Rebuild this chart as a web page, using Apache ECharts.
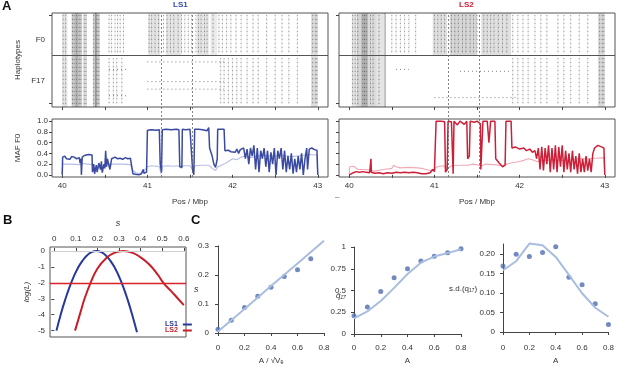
<!DOCTYPE html>
<html><head><meta charset="utf-8">
<script src="https://cdn.jsdelivr.net/npm/echarts@6/dist/echarts.min.js"></script>
<style>html,body{margin:0;padding:0;background:#fff}#c{width:617px;height:366px}</style>
</head><body><div id="c"></div>
<script>
// ---------------- DATA ----------------
const mafTicks = [40, 40.5, 41, 41.5, 42, 42.5, 43];
const mafLabels = [40, 41, 42, 43];
const mafYTicks = [0, 0.2, 0.4, 0.6, 0.8, 1.0];
const dashPosLS1 = [41.16, 41.53];
const dashPosLS2 = [41.16, 41.535];

// haplotype shading bands: [pos0, pos1, row0, row1, density]
const hapBandsLS1 = [
  [40.00,40.06,0,100,0.10],[40.11,40.23,0,100,0.18],[40.15,40.19,0,100,0.12],
  [40.24,40.29,0,100,0.10],[40.36,40.44,0,100,0.16],[40.385,40.405,0,100,0.30],
  [41.01,41.15,55,100,0.10],[41.22,41.40,55,100,0.10],[41.58,41.72,55,100,0.10],
  [41.74,41.82,55,100,0.08],[42.92,43.00,0,100,0.12]
];
const hapBandsLS2 = [
  [40.03,40.09,0,100,0.10],[40.09,40.14,0,100,0.16],[40.14,40.22,0,100,0.28],
  [40.22,40.32,0,100,0.14],[40.32,40.42,0,100,0.10],[40.415,40.43,0,100,0.30],
  [40.98,41.15,55,100,0.12],[41.18,41.50,55,100,0.16],[41.55,41.90,55,100,0.12],
  [42.92,43.00,0,100,0.14]
];
// dotted haplotype columns (SNP positions)
const colsLS1Both = [40.01,40.04,40.12,40.14,40.17,40.20,40.22,40.26,40.28,40.37,40.41,40.43];
const colsLS1F0 = [40.55,40.58,40.62,40.65,40.68,40.72,41.02,41.05,41.09,41.13,41.19,41.23,41.27,41.31,41.36,41.40,41.44,41.48,41.52,41.57,41.60,41.63,41.67,41.70,41.77,41.84,41.88,41.93,41.98,42.04,42.10,42.17,42.24,42.30,42.40,42.50,42.58,42.66,42.76,42.94,42.97,42.99];
const colsLS1F17 = [40.55,40.60,40.64,40.70,41.86,41.90,41.95,42.00,42.05,42.10,42.17,42.24,42.30,42.40,42.50,42.58,42.66,42.76,42.94,42.97,42.99];
const rowsLS1F17 = [[41.0,41.9,48],[41.0,41.9,27],[41.0,41.9,19],[40.55,40.75,40],[40.55,40.75,12]];
const colsLS2Both = [40.04,40.07,40.10,40.16,40.18,40.20,40.25,40.28,40.35];
const colsLS2F0 = [40.50,40.55,40.60,40.65,40.70,40.78,41.00,41.04,41.08,41.12,41.20,41.24,41.28,41.33,41.37,41.42,41.46,41.50,41.58,41.62,41.66,41.70,41.75,41.80,41.85,41.92,41.98,42.04,42.10,42.18,42.25,42.32,42.45,42.52,42.60,42.70,42.80,42.94,42.97,42.99];
const colsLS2F17 = [41.92,41.98,42.04,42.10,42.18,42.25,42.32,42.45,42.52,42.60,42.70,42.80,42.94,42.97,42.99];
const rowsLS2F17 = [[41.0,41.95,10],[40.55,40.70,40],[41.3,41.9,38]];

// MAF F0 traces [pos, maf]
const mafLS1Dark = [[40.00,0.0],[40.005,0.33],[40.03,0.35],[40.05,0.30],[40.07,0.33],[40.09,0.29],[40.11,0.34],[40.14,0.33],[40.17,0.30],[40.20,0.32],[40.21,0.22],[40.22,0.30],[40.225,0.0],[40.235,0.33],[40.26,0.36],[40.28,0.35],[40.31,0.38],[40.35,0.37],[40.355,0.05],[40.37,0.20],[40.38,0.02],[40.40,0.18],[40.41,0.05],[40.43,0.22],[40.45,0.10],[40.46,0.25],[40.47,0.04],[40.49,0.20],[40.50,0.12],[40.51,0.45],[40.52,0.15],[40.53,0.30],[40.55,0.28],[40.56,0.10],[40.58,0.30],[40.60,0.28],[40.62,0.33],[40.65,0.30],[40.68,0.31],[40.71,0.29],[40.74,0.32],[40.77,0.30],[40.80,0.31],[40.82,0.28],[40.83,0.02],[40.86,0.01],[40.90,0.0],[40.93,0.02],[40.95,0.10],[40.96,0.03],[40.99,0.05],[41.00,0.83],[41.05,0.84],[41.10,0.83],[41.14,0.84],[41.15,0.20],[41.165,0.05],[41.175,0.84],[41.22,0.85],[41.28,0.84],[41.34,0.85],[41.37,0.84],[41.38,0.15],[41.405,0.14],[41.41,0.85],[41.45,0.84],[41.50,0.85],[41.52,0.82],[41.53,0.10],[41.545,0.0],[41.555,0.85],[41.60,0.85],[41.65,0.84],[41.70,0.82],[41.72,0.88],[41.73,0.50],[41.76,0.35],[41.78,0.20],[41.80,0.14],[41.82,0.30],[41.825,0.85],[41.87,0.85],[41.90,0.85],[41.91,0.45],[41.95,0.46],[41.98,0.43],[42.00,0.45],[42.03,0.42],[42.05,0.48],[42.07,0.40],[42.09,0.47],[42.11,0.44],[42.13,0.50],[42.15,0.30],[42.17,0.48],[42.19,0.20],[42.21,0.50],[42.23,0.35],[42.25,0.55],[42.27,0.10],[42.29,0.50],[42.31,0.05],[42.33,0.45],[42.35,0.30],[42.37,0.50],[42.39,0.15],[42.41,0.45],[42.43,0.05],[42.45,0.42],[42.47,0.20],[42.49,0.50],[42.51,0.0],[42.53,0.45],[42.55,0.30],[42.57,0.50],[42.59,0.10],[42.61,0.45],[42.63,0.05],[42.65,0.35],[42.67,0.10],[42.69,0.40],[42.71,0.02],[42.73,0.30],[42.75,0.05],[42.77,0.35],[42.79,0.10],[42.81,0.40],[42.83,0.0],[42.85,0.30],[42.87,0.50],[42.88,0.10],[42.90,0.48],[42.93,0.50],[42.96,0.47],[42.99,0.46],[43.00,0.0]];
const mafLS1Light = [[40.00,0.0],[40.005,0.20],[40.10,0.20],[40.20,0.19],[40.25,0.21],[40.30,0.20],[40.35,0.19],[40.37,0.12],[40.40,0.15],[40.45,0.13],[40.50,0.18],[40.55,0.20],[40.60,0.20],[40.70,0.20],[40.80,0.19],[40.83,0.08],[40.87,0.03],[40.92,0.03],[40.96,0.08],[41.00,0.15],[41.05,0.17],[41.10,0.16],[41.14,0.15],[41.16,0.02],[41.18,0.16],[41.25,0.17],[41.30,0.16],[41.38,0.17],[41.40,0.12],[41.42,0.17],[41.50,0.17],[41.53,0.10],[41.56,0.17],[41.65,0.18],[41.72,0.18],[41.76,0.12],[41.80,0.08],[41.83,0.15],[41.90,0.20],[41.95,0.25],[42.00,0.30],[42.05,0.28],[42.10,0.33],[42.15,0.35],[42.20,0.32],[42.30,0.35],[42.40,0.36],[42.50,0.35],[42.60,0.36],[42.70,0.34],[42.80,0.36],[42.90,0.38],[42.99,0.37],[43.00,0.0]];
const mafLS2Dark = [[40.00,0.0],[40.005,0.03],[40.05,0.04],[40.08,0.06],[40.12,0.05],[40.16,0.06],[40.20,0.05],[40.24,0.04],[40.25,0.05],[40.255,0.30],[40.26,0.05],[40.30,0.03],[40.35,0.04],[40.40,0.02],[40.45,0.04],[40.50,0.03],[40.55,0.05],[40.60,0.04],[40.65,0.05],[40.70,0.04],[40.75,0.05],[40.80,0.04],[40.85,0.02],[40.90,0.02],[40.95,0.04],[40.98,0.10],[41.00,0.06],[41.02,1.0],[41.08,1.0],[41.12,0.99],[41.13,0.05],[41.15,0.10],[41.16,1.0],[41.20,0.99],[41.22,0.02],[41.23,1.0],[41.27,0.93],[41.30,1.0],[41.35,0.94],[41.38,1.0],[41.39,0.30],[41.41,0.35],[41.42,1.0],[41.47,0.98],[41.50,1.0],[41.54,0.95],[41.545,0.10],[41.56,0.08],[41.57,1.0],[41.62,1.0],[41.64,0.60],[41.66,1.0],[41.71,1.0],[41.72,0.30],[41.76,0.22],[41.80,0.15],[41.83,0.18],[41.84,1.0],[41.90,1.0],[41.91,0.50],[41.95,0.52],[42.00,0.48],[42.05,0.50],[42.08,0.45],[42.12,0.48],[42.15,0.42],[42.18,0.45],[42.20,0.30],[42.22,0.50],[42.24,0.10],[42.26,0.52],[42.28,0.08],[42.30,0.50],[42.32,0.20],[42.34,0.55],[42.36,0.05],[42.38,0.50],[42.40,0.10],[42.42,0.55],[42.44,0.05],[42.46,0.52],[42.48,0.15],[42.50,0.55],[42.52,0.05],[42.54,0.45],[42.56,0.10],[42.58,0.40],[42.60,0.05],[42.62,0.45],[42.64,0.10],[42.66,0.35],[42.68,0.02],[42.70,0.40],[42.72,0.05],[42.74,0.30],[42.76,0.05],[42.78,0.35],[42.80,0.08],[42.82,0.30],[42.84,0.05],[42.86,0.40],[42.88,0.50],[42.92,0.55],[42.96,0.52],[42.99,0.50],[43.00,0.0]];
const mafLS2Light = [[40.00,0.0],[40.005,0.15],[40.05,0.16],[40.10,0.10],[40.20,0.10],[40.25,0.08],[40.30,0.07],[40.40,0.10],[40.50,0.12],[40.52,0.18],[40.55,0.15],[40.60,0.13],[40.70,0.14],[40.80,0.13],[40.85,0.12],[40.90,0.10],[40.95,0.08],[41.00,0.10],[41.03,0.15],[41.10,0.17],[41.16,0.12],[41.20,0.17],[41.30,0.18],[41.40,0.18],[41.45,0.20],[41.50,0.19],[41.55,0.16],[41.60,0.20],[41.70,0.19],[41.80,0.17],[41.85,0.20],[41.90,0.22],[42.00,0.25],[42.05,0.27],[42.10,0.30],[42.15,0.28],[42.20,0.25],[42.30,0.27],[42.40,0.28],[42.50,0.27],[42.60,0.28],[42.70,0.30],[42.80,0.30],[42.90,0.31],[42.99,0.32],[43.00,0.0]];

// Panel B: log-likelihood vs s
const bTicksX = [0, 0.1, 0.2, 0.3, 0.4, 0.5, 0.6];
const bTicksY = [0, -1, -2, -3, -4, -5];
const llLS1 = [[0.01,-5.0],[0.03,-3.97],[0.05,-3.07],[0.07,-2.28],[0.09,-1.61],[0.11,-1.05],[0.13,-0.62],[0.15,-0.30],[0.17,-0.09],[0.195,0],[0.22,-0.09],[0.24,-0.30],[0.26,-0.62],[0.28,-1.05],[0.30,-1.61],[0.32,-2.28],[0.34,-3.07],[0.36,-3.97],[0.383,-5.1]];
const llLS2 = [[0.096,-5.0],[0.12,-3.9],[0.14,-3.0],[0.168,-2.0],[0.20,-1.1],[0.24,-0.45],[0.28,-0.1],[0.32,0],[0.36,-0.1],[0.40,-0.4],[0.44,-0.85],[0.48,-1.5],[0.505,-2.0],[0.54,-2.5],[0.57,-2.95],[0.60,-3.4]];
const llThreshold = -2;
const llMax = 0;

// Panel C
const cA = [0, 0.1, 0.2, 0.3, 0.4, 0.5, 0.6, 0.7, 0.8];
const c1Points = [0.013, 0.044, 0.088, 0.127, 0.158, 0.195, 0.218, 0.256];
const c1Line = [[0,0.005],[0.2,0.083],[0.4,0.162],[0.6,0.24],[0.8,0.318]];
const c2Points = [0.209, 0.31, 0.489, 0.646, 0.75, 0.84, 0.895, 0.933, 0.98];
const c2Line = [0.18, 0.26, 0.38, 0.53, 0.69, 0.82, 0.89, 0.93, 0.975];
const c3Points = [0.169, 0.199, 0.193, 0.203, 0.218, 0.14, 0.121, 0.072, 0.019];
const c3Line = [0.158, 0.181, 0.226, 0.222, 0.192, 0.146, 0.099, 0.062, 0.039];

// ---------------- CHART ----------------
const FONT = 'Liberation Sans, Arial, Helvetica, sans-serif';
const AX = '#444';
const BLUE = '#3a4aa0', BLUE_L = '#b6bde3';
const RED = '#cc2038', RED_L = '#f1a9b6';
const CPT = '#4f6db0', CLN = '#a8bde0';

function colItems(both, f0, f17){
  const out = [];
  both.forEach(p => out.push([p, 2, 98]));
  f0.forEach(p => out.push([p, 57, 98]));
  f17.forEach(p => out.push([p, 3, 52]));
  return out;
}
const bandRender = (params, api) => {
  const a = api.coord([api.value(0), api.value(3)]);
  const b = api.coord([api.value(1), api.value(2)]);
  return {type:'rect', shape:{x:a[0], y:a[1], width:Math.max(1,b[0]-a[0]), height:b[1]-a[1]},
    style:{fill:'rgba(0,0,0,' + api.value(4) + ')'}};
};
const colRender = (params, api) => {
  const a = api.coord([api.value(0), api.value(2)]);
  const b = api.coord([api.value(0), api.value(1)]);
  const sh = {x1:a[0], y1:a[1], x2:b[0], y2:b[1]};
  return {type:'group', children:[
    {type:'line', shape:sh, style:{stroke:'rgba(0,0,0,0.10)', lineWidth:1}},
    {type:'line', shape:sh, style:{stroke:'rgba(0,0,0,0.38)', lineWidth:1, lineDash:[1,3]}}
  ]};
};
const rowRender = (params, api) => {
  const a = api.coord([api.value(0), api.value(2)]);
  const b = api.coord([api.value(1), api.value(2)]);
  return {type:'line', shape:{x1:a[0], y1:a[1], x2:b[0], y2:b[1]},
    style:{stroke:'rgba(0,0,0,0.5)', lineWidth:1, lineDash:[1,3]}};
};

const tickStyle = () => ({show:true, inside:false, length:3, lineStyle:{color:AX, width:1}});
const lbl = () => ({fontSize:8, color:'#333', fontFamily:FONT});
const nameStyle = () => ({fontSize:8, color:'#333', fontFamily:FONT});

function hapX(gi){
  return {gridIndex:gi, type:'value', min:39.88, max:43.12, axisLine:{show:false}, splitLine:{show:false},
    axisTick:Object.assign({customValues:mafTicks}, tickStyle()), axisLabel:{show:false}};
}
function hapY(gi, labels){
  return {gridIndex:gi, type:'value', min:0, max:100, axisLine:{show:false}, splitLine:{show:false},
    axisTick:Object.assign({customValues:[4,98]}, tickStyle()),
    axisLabel: labels ? Object.assign({customValues:[72,28], margin:7, formatter:v => v > 50 ? 'F0' : 'F17'}, lbl()) : {show:false},
    name: labels ? 'Haplotypes' : '', nameLocation:'middle', nameGap:30, nameTextStyle:nameStyle()};
}
function mafX(gi){
  return {gridIndex:gi, type:'value', min:39.88, max:43.12, axisLine:{show:false}, splitLine:{show:false},
    axisTick:Object.assign({customValues:mafTicks}, tickStyle()),
    axisLabel:Object.assign({customValues:mafLabels, margin:5}, lbl()),
    name:'Pos / Mbp', nameLocation:'middle', nameGap:21, nameTextStyle:nameStyle()};
}
function mafY(gi, labels){
  return {gridIndex:gi, type:'value', min:-0.04, max:1.04, axisLine:{show:false}, splitLine:{show:false},
    axisTick:Object.assign({customValues:mafYTicks}, tickStyle()),
    axisLabel: labels ? Object.assign({customValues:mafYTicks, margin:4, formatter:v => v.toFixed(1)}, lbl()) : {show:false},
    name: labels ? 'MAF F0' : '', nameLocation:'middle', nameGap:30, nameTextStyle:nameStyle()};
}
function hidX(gi){ return {gridIndex:gi, type:'value', min:39.88, max:43.12, show:false}; }
function hidY(gi){ return {gridIndex:gi, type:'value', min:0, max:1, show:false}; }

const box = () => ({show:true, borderColor:'#555', borderWidth:1, backgroundColor:'transparent'});
const grids = [
  Object.assign({left:52, top:13, width:276, height:94}, box()),   //0 hap LS1
  Object.assign({left:52, top:119, width:276, height:58}, box()),  //1 MAF LS1
  Object.assign({left:339, top:13, width:276, height:94}, box()),  //2 hap LS2
  Object.assign({left:339, top:119, width:276, height:58}, box()), //3 MAF LS2
  {left:52, top:13, width:276, height:164, show:false},             //4 dash LS1
  {left:339, top:13, width:276, height:164, show:false},            //5 dash LS2
  Object.assign({left:50, top:247, width:136, height:90}, box()),  //6 B
  {left:218, top:246, width:106, height:89, show:false},            //7 C1
  {left:354, top:247, width:107, height:89, show:false},            //8 C2
  {left:503, top:244, width:106, height:91, show:false}             //9 C3
];

function cX(gi, name, offset){
  return {gridIndex:gi, type:'value', min:0, max:0.8, interval:0.2, offset:offset,
    axisLine:{show:true, lineStyle:{color:AX, width:1}}, splitLine:{show:false},
    axisTick:tickStyle(), axisLabel:Object.assign({margin:4, formatter:v => v === 0 ? '0' : String(+v.toFixed(1))}, lbl()),
    name:name, nameLocation:'middle', nameGap:17, nameTextStyle:nameStyle()};
}

const xAxes = [hapX(0), mafX(1), hapX(2), mafX(3), hidX(4), hidX(5),
  {gridIndex:6, type:'value', position:'top', min:-0.02, max:0.61, axisLine:{show:false}, splitLine:{show:false},
    axisTick:Object.assign({customValues:bTicksX}, tickStyle()),
    axisLabel:Object.assign({customValues:bTicksX, margin:4, formatter:v => v === 0 ? '0' : String(+v.toFixed(1))}, lbl()),
    name:'s', nameLocation:'middle', nameGap:19, nameTextStyle:{fontSize:9, fontStyle:'italic', color:'#333', fontFamily:FONT}},
  cX(7, 'A / √Vₑ', 7), cX(8, 'A', 6), cX(9, 'A', 8)
];
const yAxes = [hapY(0, true), mafY(1, true), hapY(2, false), mafY(3, false), hidY(4), hidY(5),
  {gridIndex:6, type:'value', min:-5.4, max:0.25, axisLine:{show:false}, splitLine:{show:false},
    axisTick:Object.assign({customValues:bTicksY}, tickStyle()),
    axisLabel:Object.assign({customValues:bTicksY, margin:5}, lbl()),
    name:'log(L)', nameLocation:'middle', nameGap:19, nameTextStyle:{fontSize:8, fontStyle:'italic', color:'#333', fontFamily:FONT}},
  {gridIndex:7, type:'value', min:0, max:0.3, interval:0.1, offset:5, axisLine:{show:true, lineStyle:{color:AX}}, splitLine:{show:false},
    axisTick:tickStyle(), axisLabel:Object.assign({margin:4, formatter:v => v === 0 ? '0' : v.toFixed(1)}, lbl())},
  {gridIndex:8, type:'value', min:0, max:1, interval:0.25, offset:4, axisLine:{show:true, lineStyle:{color:AX}}, splitLine:{show:false},
    axisTick:tickStyle(), axisLabel:Object.assign({margin:4, formatter:v => String(v)}, lbl())},
  {gridIndex:9, type:'value', min:0, max:0.225, offset:4, axisLine:{show:true, lineStyle:{color:AX}}, splitLine:{show:false},
    axisTick:Object.assign({customValues:[0,0.05,0.1,0.15,0.2]}, tickStyle()),
    axisLabel:Object.assign({customValues:[0,0.05,0.1,0.15,0.2], margin:4, formatter:v => v === 0 ? '0' : v.toFixed(2)}, lbl())}
];

const dashLine = (pos) => ({symbol:'none', silent:true, label:{show:false},
  lineStyle:{type:[2,2], color:'#666', width:0.8}, data:pos.map(p => ({xAxis:p}))});
const dividerLine = () => ({symbol:'none', silent:true, label:{show:false}, lineStyle:{type:'solid', color:'#555', width:1}, data:[{yAxis:55}]});

const series = [
  {type:'custom', name:'hapBandsLS1', xAxisIndex:0, yAxisIndex:0, renderItem:bandRender, data:hapBandsLS1, encode:{x:[0,1], y:[2,3]}, markLine:dividerLine()},
  {type:'custom', name:'hapColsLS1', xAxisIndex:0, yAxisIndex:0, renderItem:colRender, data:colItems(colsLS1Both, colsLS1F0, colsLS1F17), encode:{x:0, y:[1,2]}},
  {type:'custom', name:'hapRowsLS1', xAxisIndex:0, yAxisIndex:0, renderItem:rowRender, data:rowsLS1F17, encode:{x:[0,1], y:2}},
  {type:'line', name:'mafLS1Light', xAxisIndex:1, yAxisIndex:1, data:mafLS1Light, showSymbol:false, lineStyle:{color:BLUE_L, width:1.1}},
  {type:'line', name:'mafLS1Dark', xAxisIndex:1, yAxisIndex:1, data:mafLS1Dark, showSymbol:false, lineStyle:{color:BLUE, width:1.5}},
  {type:'custom', name:'hapBandsLS2', xAxisIndex:2, yAxisIndex:2, renderItem:bandRender, data:hapBandsLS2, encode:{x:[0,1], y:[2,3]}, markLine:dividerLine()},
  {type:'custom', name:'hapColsLS2', xAxisIndex:2, yAxisIndex:2, renderItem:colRender, data:colItems(colsLS2Both, colsLS2F0, colsLS2F17), encode:{x:0, y:[1,2]}},
  {type:'custom', name:'hapRowsLS2', xAxisIndex:2, yAxisIndex:2, renderItem:rowRender, data:rowsLS2F17, encode:{x:[0,1], y:2}},
  {type:'line', name:'mafLS2Light', xAxisIndex:3, yAxisIndex:3, data:mafLS2Light, showSymbol:false, lineStyle:{color:RED_L, width:1.1}},
  {type:'line', name:'mafLS2Dark', xAxisIndex:3, yAxisIndex:3, data:mafLS2Dark, showSymbol:false, lineStyle:{color:RED, width:1.5}},
  {type:'line', name:'dashLS1', xAxisIndex:4, yAxisIndex:4, data:[], markLine:dashLine(dashPosLS1)},
  {type:'line', name:'dashLS2', xAxisIndex:5, yAxisIndex:5, data:[], markLine:dashLine(dashPosLS2)},
  {type:'line', name:'llZero', xAxisIndex:6, yAxisIndex:6, data:[], markLine:{symbol:'none', silent:true, label:{show:false},
      lineStyle:{color:'#cfcfcf', width:1.2, type:'solid'}, data:[{yAxis:llMax}]}},
  {type:'line', name:'llThresh', xAxisIndex:6, yAxisIndex:6, data:[], markLine:{symbol:'none', silent:true, label:{show:false},
      lineStyle:{color:'#d8232a', width:1.3, type:'solid'}, data:[{yAxis:llThreshold}]}},
  {type:'line', name:'LS1', xAxisIndex:6, yAxisIndex:6, data:llLS1, showSymbol:false, smooth:true, itemStyle:{color:'#26389a'}, lineStyle:{color:'#26389a', width:2}},
  {type:'line', name:'LS2', xAxisIndex:6, yAxisIndex:6, data:llLS2, showSymbol:false, smooth:true, itemStyle:{color:'#c81e28'}, lineStyle:{color:'#c81e28', width:2}},
  {type:'line', name:'c1Line', xAxisIndex:7, yAxisIndex:7, data:c1Line, showSymbol:false, clip:false, lineStyle:{color:CLN, width:2}},
  {type:'scatter', name:'c1Pts', xAxisIndex:7, yAxisIndex:7, data:c1Points.map((v,i) => [cA[i], v]), symbolSize:5, itemStyle:{color:CPT}},
  {type:'line', name:'c2Line', xAxisIndex:8, yAxisIndex:8, data:c2Line.map((v,i) => [cA[i], v]), showSymbol:false, clip:false, lineStyle:{color:CLN, width:2}},
  {type:'scatter', name:'c2Pts', xAxisIndex:8, yAxisIndex:8, data:c2Points.map((v,i) => [cA[i], v]), symbolSize:5, itemStyle:{color:CPT}},
  {type:'line', name:'c3Line', xAxisIndex:9, yAxisIndex:9, data:c3Line.map((v,i) => [cA[i], v]), showSymbol:false, clip:false, lineStyle:{color:CLN, width:2}},
  {type:'scatter', name:'c3Pts', xAxisIndex:9, yAxisIndex:9, data:c3Points.map((v,i) => [cA[i], v]), symbolSize:5, itemStyle:{color:CPT}}
];

const txt = (x, y, text, extra) => ({type:'text', left:x, top:y, silent:true,
  style:Object.assign({text:text, fontSize:8, fill:'#333', fontFamily:FONT}, extra || {})});

const option = {
  animation:false,
  textStyle:{fontFamily:FONT},
  grid:grids, xAxis:xAxes, yAxis:yAxes, series:series,
  legend:{show:true, left:160, top:316, orient:'vertical', align:'right', itemGap:-1, itemWidth:9, itemHeight:2, icon:'rect',
    textStyle:{fontSize:7, fontWeight:'bold', fontFamily:FONT, padding:[0,0,0,0]},
    data:[{name:'LS1', textStyle:{color:'#26389a'}}, {name:'LS2', textStyle:{color:'#c81e28'}}]},
  graphic:[
    txt(2, 0, 'A', {fontSize:13, fontWeight:'bold', fill:'#111'}),
    txt(3, 214, 'B', {fontSize:13, fontWeight:'bold', fill:'#111'}),
    txt(191, 214, 'C', {fontSize:13, fontWeight:'bold', fill:'#111'}),
    txt(173, 1, 'LS1', {fontSize:8, fontWeight:'bold', fill:'#3a4aa8'}),
    txt(459, 1, 'LS2', {fontSize:8, fontWeight:'bold', fill:'#cc2038'}),
    txt(335, 193, '–', {fontSize:8, fill:'#555'}),
    txt(194, 285, 's', {fontSize:9, fontStyle:'italic'}),
    txt(336, 292, 'q̄₁₇', {fontSize:8, fontStyle:'italic'}),
    txt(449, 285, 's.d.(q₁₇)', {fontSize:8})
  ]
};
const chart = echarts.init(document.getElementById('c'));
chart.setOption(option);
</script></body></html>
